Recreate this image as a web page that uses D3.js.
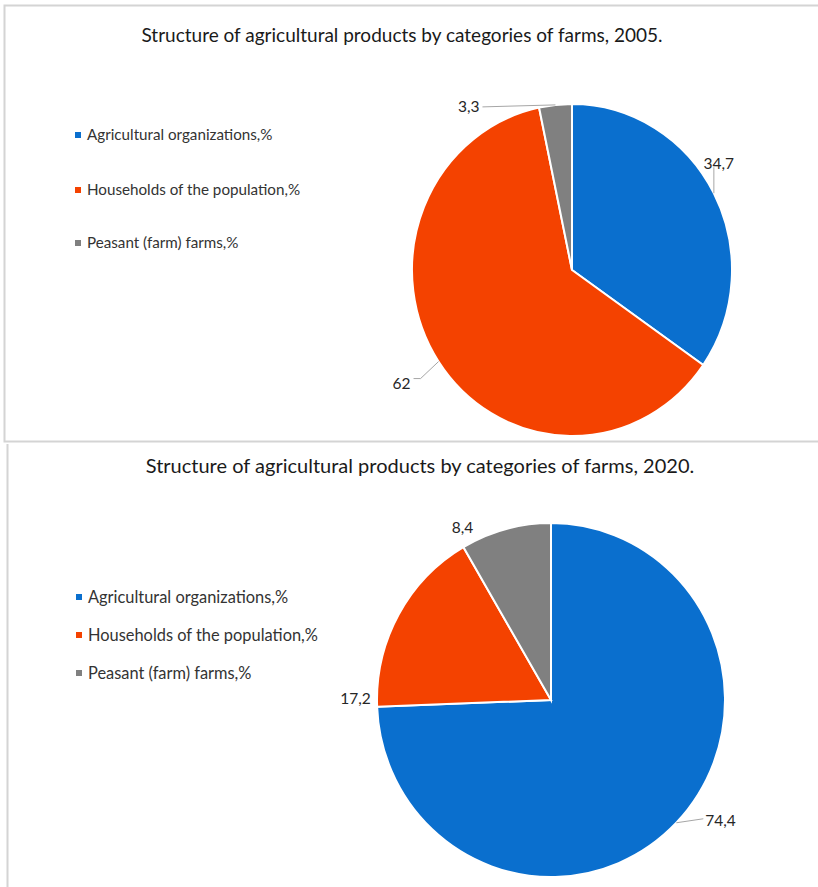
<!DOCTYPE html>
<html>
<head>
<meta charset="utf-8">
<script src="https://cdn.jsdelivr.net/npm/d3@7"></script>
<style>
  html, body { margin: 0; padding: 0; background: #fff; }
  svg { display: block; }
  text { font-family: Lato, "Open Sans", sans-serif; fill: #1a1a1a; }
</style>
</head>
<body>
<svg id="chart" width="818" height="887"></svg>
<script>
// ---- data ----
const categories = ["Agricultural organizations,%", "Households of the population,%", "Peasant (farm) farms,%"];
const colors = ["#0A6FCE", "#F44200", "#808080"];
const values2005 = [34.7, 62, 3.3];
const values2020 = [74.4, 17.2, 8.4];
const titles = [
  "Structure of agricultural products by categories of farms, 2005.",
  "Structure of agricultural products by categories of farms, 2020."
];

// ---- layout (positions / styles only) ----
const panels = [
  {
    values: values2005, title: titles[0],
    titleY: 42, titleX: 402, titleSize: 19,
    cx: 572, cy: 270, rx: 160, ry: 166,
    legendX: 75, legendY: [135, 190, 243], legendSize: 15.2,
    labels: [
      { dx: 5, dy: -30, anchor: "middle", leader: [[0, 0], [0, -26]] },
      { dx: -28, dy: 22, anchor: "end", leader: [[0, 0], [-18, 17], [-25, 17]] },
      { dx: -76, dy: 2, anchor: "end", leader: [[0, 0], [-73, 2]] }
    ]
  },
  {
    values: values2020, title: titles[1],
    titleY: 473, titleX: 420, titleSize: 20,
    cx: 551, cy: 700, rx: 174, ry: 177,
    legendX: 76, legendY: [597, 635, 673], legendSize: 16.4,
    labels: [
      { dx: 29, dy: -2, anchor: "start", leader: [[0, 0], [27, -4]] },
      { dx: -43, dy: 84, anchor: "middle", leader: null },
      { dx: -43, dy: -2, anchor: "middle", leader: null }
    ]
  }
];

const svg = d3.select("#chart");

// panel borders
svg.append("rect")
  .attr("x", 4.5).attr("y", 5.5).attr("width", 830).attr("height", 436)
  .attr("fill", "none").attr("stroke", "#d4d4d4").attr("stroke-width", 2);
svg.append("path")
  .attr("d", "M7.5,444 V887")
  .attr("fill", "none").attr("stroke", "#d4d4d4").attr("stroke-width", 2);

const fmt = v => String(v).replace(".", ",");

panels.forEach(p => {
  const g = svg.append("g");

  g.append("text")
    .attr("x", p.titleX).attr("y", p.titleY)
    .attr("text-anchor", "middle")
    .style("font-size", p.titleSize + "px")
    .text(p.title);

  // legend
  const leg = g.append("g");
  categories.forEach((c, i) => {
    leg.append("rect")
      .attr("x", p.legendX).attr("y", p.legendY[i] - 3)
      .attr("width", 6).attr("height", 6)
      .attr("fill", colors[i]);
    leg.append("text")
      .attr("x", p.legendX + 12).attr("y", p.legendY[i])
      .attr("dy", "0.35em")
      .style("font-size", p.legendSize + "px")
      .style("fill", "#333")
      .text(c);
  });

  // pie
  const pie = d3.pie().sort(null).value(d => d);
  const arcs = pie(p.values);
  const arc = d3.arc().innerRadius(0).outerRadius(p.rx);
  const sy = p.ry / p.rx;

  const pg = g.append("g")
    .attr("transform", `translate(${p.cx},${p.cy}) scale(1,${sy})`);
  pg.selectAll("path")
    .data(arcs)
    .join("path")
    .attr("d", arc)
    .attr("fill", (d, i) => colors[i])
    .attr("stroke", "#fff")
    .attr("stroke-width", 2)
    .attr("vector-effect", "non-scaling-stroke");

  // labels
  const edgeArc = d3.arc().innerRadius(p.rx).outerRadius(p.rx);
  arcs.forEach((d, i) => {
    const c = edgeArc.centroid(d);
    const ex = p.cx + c[0];
    const ey = p.cy + c[1] * sy;
    const L = p.labels[i];
    if (L.leader) {
      g.append("path")
        .attr("d", d3.line()(L.leader.map(pt => [ex + pt[0], ey + pt[1]])))
        .attr("fill", "none")
        .attr("stroke", "#a6a6a6")
        .attr("stroke-width", 1);
    }
    g.append("text")
      .attr("x", ex + L.dx).attr("y", ey + L.dy)
      .attr("dy", "0.35em")
      .attr("text-anchor", L.anchor)
      .style("font-size", "15.5px")
      .style("fill", "#262626")
      .text(fmt(p.values[i]));
  });
});
</script>
</body>
</html>
